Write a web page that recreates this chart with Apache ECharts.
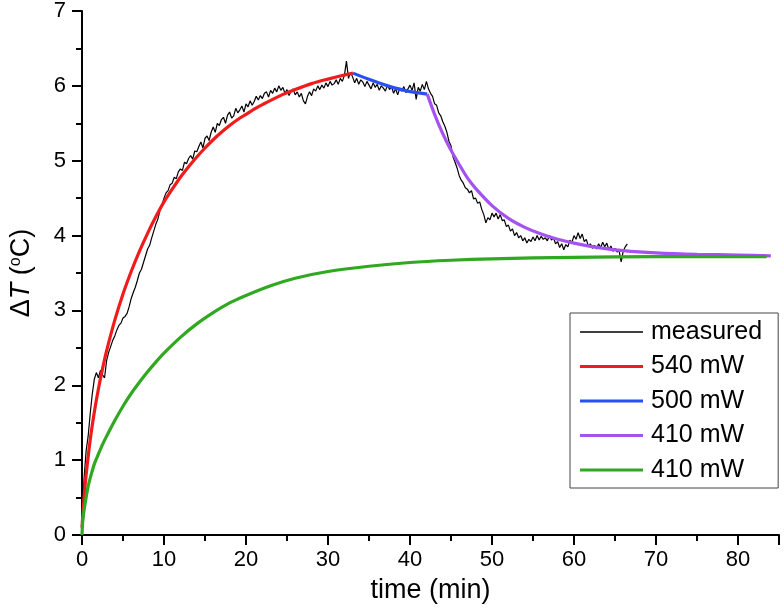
<!DOCTYPE html>
<html><head><meta charset="utf-8">
<script src="https://cdn.jsdelivr.net/npm/echarts@6/dist/echarts.min.js"></script>
<style>html,body{margin:0;padding:0;background:#fff}#c{width:784px;height:615px}</style>
</head><body><div id="c"></div>
<script>
// measured data: sampled every 0.25 min starting at t = 0 (one row per minute)
var measuredStart = 0;
var measuredStep = 0.25;
var measuredValues = [
0.15,0.75,1.12,1.32,  1.62,1.88,2.08,2.17,  2.1,2.2,2.14,2.1,  2.33,2.44,2.52,2.6,
2.66,2.74,2.8,2.83,  2.9,2.92,2.96,3.05,  3.16,3.24,3.31,3.4,  3.5,3.55,3.64,3.73,
3.82,3.87,3.97,4.06,  4.15,4.22,4.33,4.41,  4.5,4.57,4.6,4.68,  4.7,4.78,4.76,4.85,
4.89,4.87,4.98,4.96,  5.03,5.07,5.02,5.13,  5.12,5.19,5.25,5.17,  5.3,5.33,5.27,5.38,
5.45,5.38,5.5,5.47,  5.55,5.58,5.5,5.61,  5.65,5.57,5.6,5.7,  5.64,5.68,5.73,5.65,
5.76,5.72,5.8,5.74,  5.79,5.86,5.81,5.87,  5.83,5.9,5.92,5.85,  5.94,5.9,5.97,5.92,
6.0,5.94,5.98,5.9,  5.95,5.87,5.93,5.96,  5.88,5.92,5.85,5.9,  5.8,5.76,5.86,5.92,
5.87,5.96,5.93,6.0,  5.95,6.01,5.97,6.04,  5.99,6.06,6.01,6.03,  6.08,6.02,6.1,6.06,
6.14,6.33,6.1,6.18,  6.12,6.04,6.1,6.02,  6.08,6.05,5.99,6.06,  6.01,5.96,6.04,5.98,
6.02,5.94,6.0,5.97,  5.93,6.01,5.95,5.99,  5.9,5.96,5.88,5.97,  5.93,5.99,5.91,5.96,
6.01,5.94,6.04,5.82,  5.98,5.93,6.02,5.95,  6.06,5.96,5.9,5.86,  5.76,5.74,5.64,5.6,
5.52,5.46,5.38,5.26,  5.2,5.05,4.98,4.9,  4.8,4.74,4.7,4.64,  4.62,4.57,4.6,4.49,
4.5,4.43,4.45,4.35,  4.28,4.17,4.24,4.21,  4.3,4.25,4.3,4.22,  4.28,4.2,4.21,4.12,
4.14,4.06,4.09,4.0,  4.04,3.97,4.0,3.93,  3.97,3.9,3.95,3.92,  3.98,3.93,4.0,3.94,
3.99,3.95,3.97,3.93,  4.0,3.94,3.97,3.89,  3.92,3.84,3.89,3.81,  3.88,3.85,3.94,3.91,
4.0,3.95,4.04,3.96,  4.02,3.92,3.95,3.86,  3.89,3.83,3.87,3.82,  3.89,3.84,3.91,3.85,
3.9,3.81,3.86,3.79,  3.83,3.78,3.8,3.65,  3.79,3.85,3.89
];

var fit540T = [0,0.25,0.5,1,1.5,2,2.5,3,4,5,6,7,8,9,10,11,12,13,14,15,16,17,18,19,20,21,22,24,26,28,30,32,33.05];
var fit540V = [0.1,0.5,0.8,1.27,1.64,1.95,2.22,2.46,2.87,3.22,3.52,3.79,4.03,4.25,4.45,4.62,4.78,4.92,5.05,5.17,5.28,5.38,5.47,5.55,5.62,5.69,5.75,5.86,5.95,6.03,6.09,6.145,6.17];

var fit500T = [33.05,34.9,37.3,39.7,42.1];
var fit500V = [6.17,6.09,6.0,5.93,5.89];

var fit410aT = [42.1,43,44,45,46,47,48,50,52,54,56,58,60,63,66,70,75,80,84];
var fit410aV = [5.89,5.62,5.36,5.14,4.95,4.77,4.63,4.4,4.23,4.11,4.02,3.95,3.9,3.84,3.8,3.77,3.75,3.74,3.73];

var fit410bT = [0,0.1,0.32,0.73,1.1,1.54,2,2.55,3,3.56,4,5,6,7,8,9,10,12,14,16,18,20,23,26,30,35,40,45,50,60,70,83.5];
var fit410bV = [0,0.2,0.38,0.64,0.8,0.96,1.08,1.22,1.32,1.44,1.53,1.72,1.89,2.04,2.18,2.31,2.43,2.64,2.82,2.97,3.1,3.2,3.33,3.43,3.52,3.59,3.64,3.67,3.69,3.71,3.72,3.72];

var xTicks = [0,10,20,30,40,50,60,70,80];
var yTicks = [0,1,2,3,4,5,6,7];

var seriesNames = ['measured','540 mW','500 mW','410 mW','410 mW '];
var seriesColors = ['#000000','#f01c1c','#2a4ff0','#a452f0','#30a820'];

function pairs(t, v){ var out=[]; for(var i=0;i<t.length;i++) out.push([t[i], v[i]]); return out; }
var measuredData = measuredValues.map(function(v,i){ return [measuredStart + i*measuredStep, v]; });

var FONT = 'Liberation Sans, Arial, sans-serif';
// legend icons: a horizontal bar centred in a 63x14 box (tiny corner specks fix the box)
var thinIcon = 'path://M0,0H0.01V0.01H0Z M0,6.2H63V7.8H0Z M62.99,13.99H63V14H62.99Z';
var thickIcon = 'path://M0,0H0.01V0.01H0Z M0,5.4H63V8.6H0Z M62.99,13.99H63V14H62.99Z';

var chart = echarts.init(document.getElementById('c'), null, {renderer:'canvas'});
function fitSeries(idx, data){
  return {name: seriesNames[idx], type:'line', data:data, showSymbol:false, symbol:'none', smooth:0.25,
    lineStyle:{color:seriesColors[idx], width:3.2}, itemStyle:{color:seriesColors[idx]}, z: 3, animation:false};
}
var axisCommon = {
  axisLine:{lineStyle:{color:'#000', width:2}},
  axisTick:{show:true, inside:false, length:10, lineStyle:{color:'#000', width:2}},
  minorTick:{show:true, splitNumber:2, length:6, lineStyle:{color:'#000', width:2}},
  splitLine:{show:false}
};
chart.setOption({
  animation:false,
  backgroundColor:'#fff',
  grid:{left:79, top:10, right:5, bottom:80, containLabel:false},
  xAxis: Object.assign({type:'value', min:0, max:85, interval:10,
    name:'time (min)', nameLocation:'middle', nameGap:42,
    nameTextStyle:{fontFamily:FONT, fontSize:27, color:'#000'},
    axisLabel:{fontFamily:FONT, fontSize:22, color:'#000', margin:14,
      formatter:function(v){ return xTicks.indexOf(v)>=0 ? String(v) : ''; }}
  }, axisCommon),
  yAxis: Object.assign({type:'value', min:0, max:7, interval:1,
    name:'{d|\u0394}{i|T}{n| (}{s|o}{n|C)}', nameLocation:'middle', nameGap:47, nameRotate:90,
    nameTextStyle:{fontFamily:FONT, fontSize:27, color:'#000',
      rich:{d:{fontFamily:FONT,fontSize:27,color:'#000'}, i:{fontFamily:FONT,fontSize:27,fontStyle:'italic',color:'#000'},
            n:{fontFamily:FONT,fontSize:27,color:'#000'}, s:{fontFamily:FONT,fontSize:16,color:'#000',verticalAlign:'top',padding:[0,0,10,0]}}},
    axisLabel:{fontFamily:FONT, fontSize:22, color:'#000', margin:16,
      formatter:function(v){ return yTicks.indexOf(v)>=0 ? String(v) : ''; }}
  }, axisCommon),
  legend:{
    orient:'vertical', left:570, top:313,
    padding:[6,16,5,10], itemWidth:63, itemHeight:14, itemGap:8.5,
    borderColor:'#444', borderWidth:1, backgroundColor:'#fff',
    symbolKeepAspect:false,
    itemStyle:{borderWidth:0},
    textStyle:{fontFamily:FONT, fontSize:25, lineHeight:26, color:'#000', padding:[0,0,0,3]},
    formatter:function(n){ return n.replace(/\s+$/,''); },
    data:seriesNames.map(function(n, i){ return {name:n, icon: i===0 ? thinIcon : thickIcon}; })
  },
  series:[
    {name:seriesNames[0], type:'line', data:measuredData, showSymbol:false, symbol:'none',
      lineStyle:{color:'#000', width:1.2}, itemStyle:{color:'#000'}, z:2, animation:false},
    fitSeries(1, pairs(fit540T, fit540V)),
    fitSeries(2, pairs(fit500T, fit500V)),
    fitSeries(3, pairs(fit410aT, fit410aV)),
    fitSeries(4, pairs(fit410bT, fit410bV))
  ]
});
</script></body></html>
